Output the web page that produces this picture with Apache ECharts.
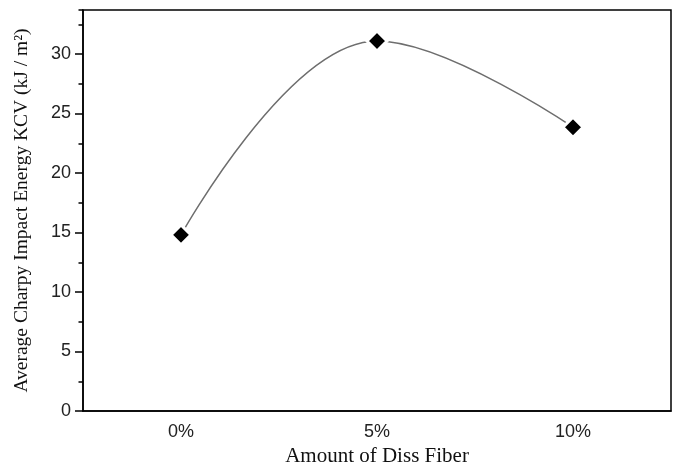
<!DOCTYPE html>
<html>
<head>
<meta charset="utf-8">
<script src="https://cdn.jsdelivr.net/npm/echarts@6/dist/echarts.min.js"></script>
<style>
  html, body { margin: 0; padding: 0; background: #fff; }
  #chart { width: 679px; height: 466px; }
</style>
</head>
<body>
<div id="chart"></div>
<script>
// data
const fiberAmounts = ['0%', '5%', '10%'];
const impactEnergy = [14.8, 31.1, 23.85];
const yTicks = [0, 5, 10, 15, 20, 25, 30];

const chart = echarts.init(document.getElementById('chart'), null, { renderer: 'canvas' });

const labelFont = { fontFamily: 'Liberation Sans, Arial, sans-serif', fontSize: 18, color: '#222' };
const nameFont = { fontFamily: 'Liberation Serif, Times New Roman, serif', fontSize: 19.5, color: '#111' };

chart.setOption({
  animation: false,
  backgroundColor: '#fff',
  grid: {
    left: 83, right: 8, top: 10, bottom: 55,
    outerBoundsMode: 'none',
    containLabel: false,
    show: true, borderColor: '#000', borderWidth: 1.5
  },
  xAxis: [
    {
      type: 'category',
      data: fiberAmounts,
      boundaryGap: true,
      name: 'Amount of Diss Fiber',
      nameLocation: 'middle',
      nameGap: 35,
      nameMoveOverlap: false,
      nameTextStyle: Object.assign({}, nameFont, { fontSize: 21 }),
      axisLine: { lineStyle: { color: '#000', width: 1.5 } },
      axisTick: { alignWithLabel: true, length: 8, lineStyle: { color: '#000', width: 1.5 } },
      axisLabel: Object.assign({ margin: 12 }, labelFont),
      splitLine: { show: false }
    },
    {
      // minor ticks between categories
      type: 'category',
      data: fiberAmounts,
      boundaryGap: true,
      position: 'bottom',
      axisLine: { show: false },
      axisTick: { alignWithLabel: false, length: 4.5, lineStyle: { color: '#000', width: 1.5 } },
      axisLabel: { show: false },
      splitLine: { show: false }
    }
  ],
  yAxis: [
    {
      type: 'value',
      min: 0,
      max: 33.7,
      interval: 5,
      name: 'Average Charpy Impact Energy KCV (kJ / m²)',
      nameLocation: 'middle',
      nameGap: 51,
      nameMoveOverlap: false,
      nameTextStyle: nameFont,
      axisLine: { show: true, lineStyle: { color: '#000', width: 1.5 } },
      axisTick: { show: true, length: 8, lineStyle: { color: '#000', width: 1.5 } },
      axisLabel: Object.assign({
        margin: 12,
        showMaxLabel: false,
        formatter: v => (yTicks.indexOf(v) >= 0 ? String(v) : '')
      }, labelFont),
      splitLine: { show: false }
    },
    {
      // minor ticks every 2.5
      type: 'value',
      min: 0,
      max: 33.7,
      interval: 2.5,
      position: 'left',
      axisLine: { show: false },
      axisTick: { show: true, length: 4.5, lineStyle: { color: '#000', width: 1.5 } },
      axisLabel: { show: false },
      splitLine: { show: false }
    }
  ],
  series: [
    {
      type: 'line',
      data: impactEnergy,
      smooth: 0.4,
      symbol: 'diamond',
      symbolSize: 20,
      lineStyle: { color: '#6e6e6e', width: 1.5 },
      itemStyle: { color: '#000', borderColor: '#fff', borderWidth: 3 },
      z: 3
    }
  ]
});
</script>
</body>
</html>
